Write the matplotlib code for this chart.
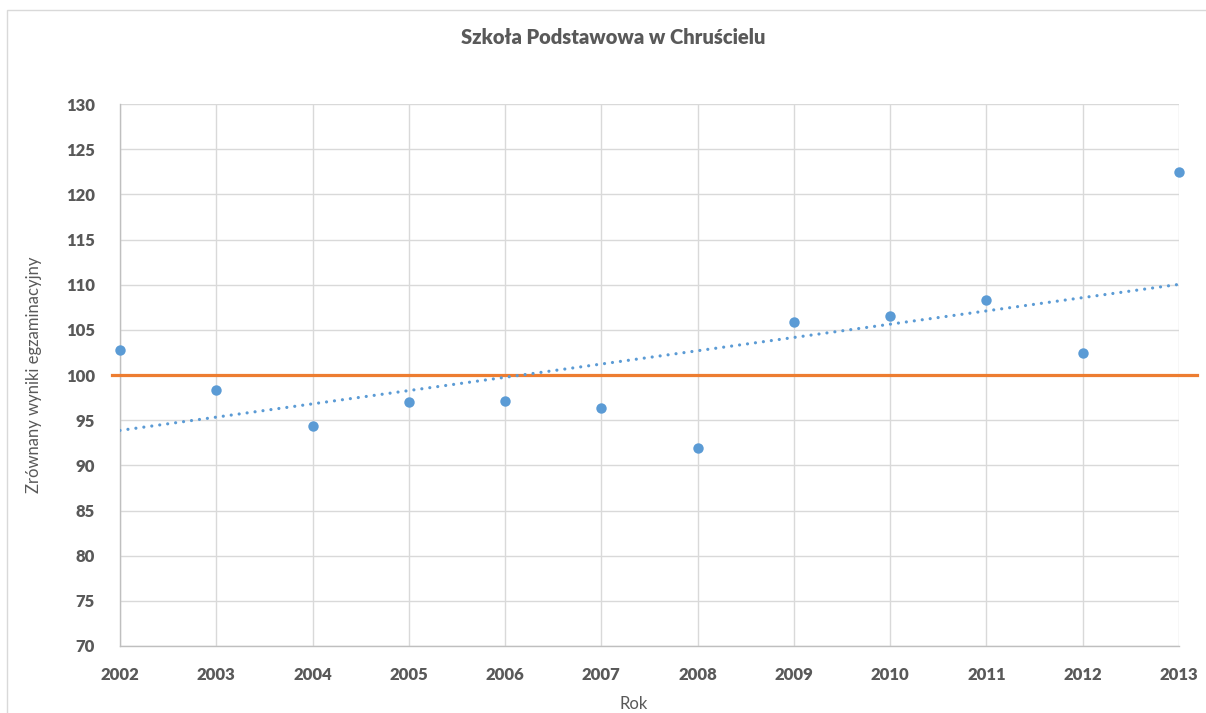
import numpy as np
import matplotlib.pyplot as plt
from matplotlib.patches import Rectangle

# ==========================================
# Data
# ==========================================
years = [2002, 2003, 2004, 2005, 2006, 2007, 2008, 2009, 2010, 2011, 2012, 2013]
scores = [102.8, 98.3, 94.4, 97.0, 97.1, 96.3, 91.9, 105.9, 106.5, 108.3, 102.4, 122.5]
ref_level = 100
y_ticks = list(range(70, 131, 5))

title = 'Szkoła Podstawowa w Chruścielu'
x_label = 'Rok'
y_label = 'Zrównany wyniki egzaminacyjny'

# linear trend (Excel-style trendline)
slope, intercept = np.polyfit(years, scores, 1)
trend = [slope * yr + intercept for yr in years]

# ==========================================
# Plot
# ==========================================
plt.rcParams.update({'font.family': ['Lato', 'DejaVu Sans']})
text_col = '#595959'
blue = '#5B9BD5'
orange = '#ED7D31'

fig = plt.figure(figsize=(12.06, 7.13), dpi=100)
ax = fig.add_axes([120 / 1206, 1 - 646 / 713, (1179 - 120) / 1206, (646 - 104) / 713])

# chart frame (cropped at right/bottom in the reference)
fig.patches.append(Rectangle((7 / 1206, -0.1), 1.2, 1 - 10 / 713 + 0.1,
                             transform=fig.transFigure, fill=False,
                             edgecolor='#D9D9D9', linewidth=1))

ax.axhline(ref_level, xmin=-0.008, xmax=1.017, color=orange, linewidth=2.3,
           clip_on=False, zorder=3)
ax.plot(years, trend, color=blue, linewidth=2.3, linestyle=(0, (0.01, 2.5)),
        dash_capstyle='round', zorder=4)
ax.plot(years, scores, 'o', color=blue, markersize=7.5, markeredgewidth=0,
        clip_on=False, zorder=5)

ax.set_xlim(years[0], years[-1])
ax.set_ylim(y_ticks[0], y_ticks[-1])
ax.set_xticks(years)
ax.set_yticks(y_ticks)
ax.grid(True, color='#D9D9D9', linewidth=1)
ax.set_axisbelow(True)

for side in ['top', 'right']:
    ax.spines[side].set_visible(False)
for side in ['left', 'bottom']:
    ax.spines[side].set_color('#BFBFBF')
    ax.spines[side].set_linewidth(1)

ax.tick_params(length=0, colors=text_col, labelsize=12)
ax.tick_params(axis='x', pad=15)
ax.tick_params(axis='y', pad=18)
for lab in ax.get_xticklabels() + ax.get_yticklabels():
    lab.set_fontweight('heavy')

ax.set_xlabel(x_label, color=text_col, fontsize=12, va='center')
ax.set_ylabel(y_label, color=text_col, fontsize=12)
ax.xaxis.set_label_coords(0.485, -0.107)
ax.yaxis.set_label_coords(-0.074, 0.5)

fig.text(613 / 1206, 1 - 38 / 713, title, ha='center', va='center',
         color=text_col, fontsize=14.5, fontweight='heavy')

plt.savefig('out.png', dpi=100)
